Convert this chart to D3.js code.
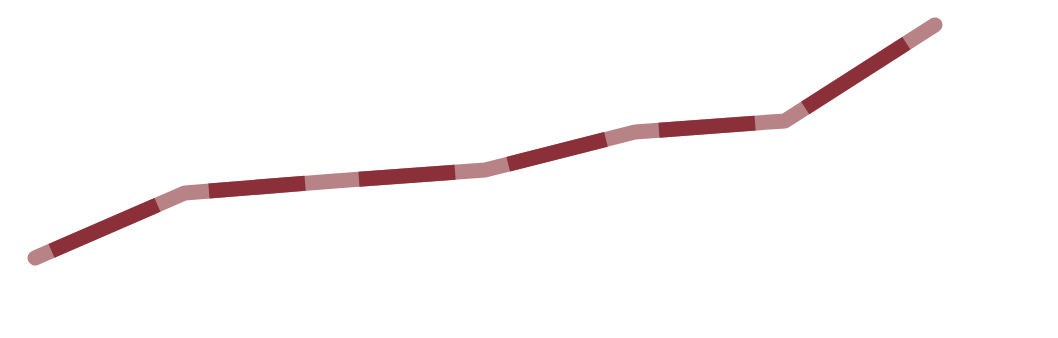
<!DOCTYPE html>
<html>
<head>
<meta charset="utf-8">
<script src="https://cdn.jsdelivr.net/npm/d3@7"></script>
<style>
  html, body { margin: 0; padding: 0; background: #fff; }
</style>
</head>
<body>
<svg id="chart" width="1058" height="338"></svg>
<script>
const steps = [0, 1, 2, 3, 4, 5, 6];
const values = [20, 41.7, 45.7, 49.3, 62, 65.7, 97.7];

const svg = d3.select("#chart");
const width = +svg.attr("width");
const height = +svg.attr("height");

const xScale = d3.scaleLinear().domain([0, 6]).range([35, 935]);
const yScale = d3.scaleLinear().domain([0, 100]).range([318, 18]);

const data = steps.map((s, i) => ({ x: xScale(s), y: yScale(values[i]) }));

const line = d3.line().x(d => d.x).y(d => d.y);

// light line under everything
svg.append("path")
  .datum(data)
  .attr("d", line)
  .attr("fill", "none")
  .attr("stroke", "#b88386")
  .attr("stroke-width", 15)
  .attr("stroke-linecap", "round")
  .attr("stroke-linejoin", "round");

// dark middle part of every segment
const segs = d3.pairs(data);
svg.selectAll(".seg")
  .data(segs)
  .enter()
  .append("line")
  .attr("class", "seg")
  .each(function([a, b], i) {
    const dx = b.x - a.x, dy = b.y - a.y;
    const len = Math.hypot(dx, dy);
    const s = i === 0 ? 18 : 24;
    const e = i === segs.length - 1 ? 34 : 30;
    d3.select(this)
      .attr("x1", a.x + dx * s / len)
      .attr("y1", a.y + dy * s / len)
      .attr("x2", b.x - dx * e / len)
      .attr("y2", b.y - dy * e / len);
  })
  .attr("stroke", "#8b2f38")
  .attr("stroke-width", 15)
  .attr("stroke-linecap", "butt");
</script>
</body>
</html>
